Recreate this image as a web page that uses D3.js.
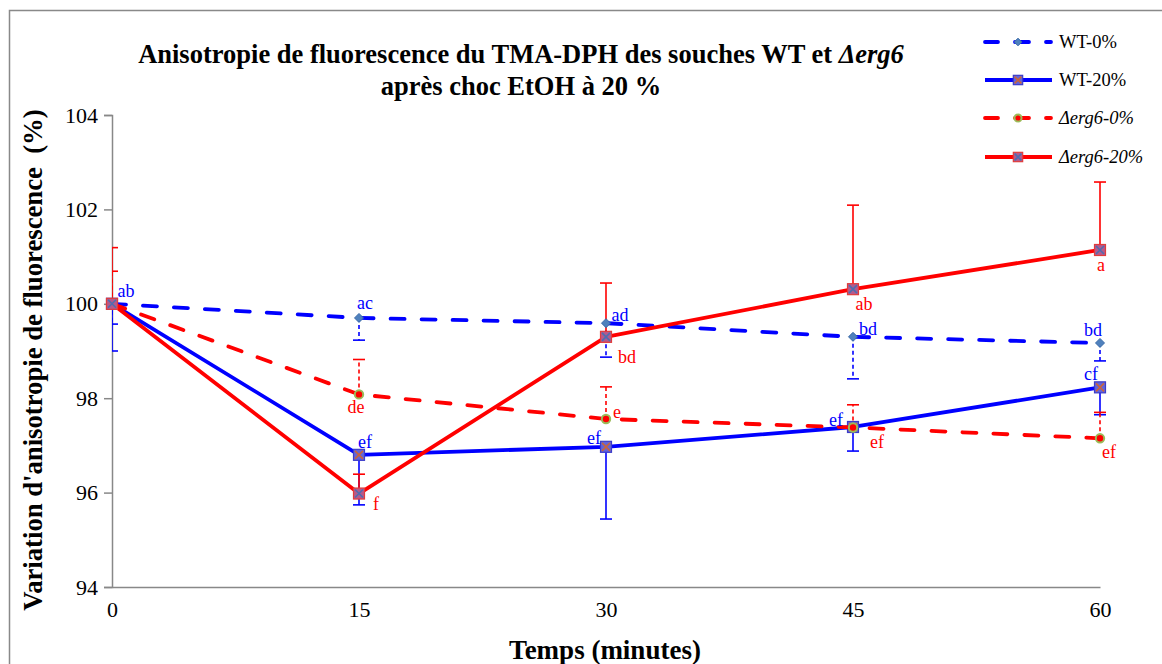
<!DOCTYPE html>
<html>
<head>
<meta charset="utf-8">
<script src="https://cdn.jsdelivr.net/npm/d3@7/dist/d3.min.js"></script>
<style>
  html, body { margin: 0; padding: 0; background: #fff; }
  svg { display: block; }
  text { font-family: "Liberation Serif", "Times New Roman", serif; }
</style>
</head>
<body>
<svg id="chart" width="1162" height="664"></svg>
<script>
// Time points (minutes)
const times = [0, 15, 30, 45, 60];
const yTicks = [94, 96, 98, 100, 102, 104];

// Mean anisotropy variation (%) per strain / condition
const wt0    = [100, 99.70, 99.59, 99.30, 99.17];
const wt20   = [100, 96.80, 96.97, 97.39, 98.23];
const erg0   = [100, 98.08, 97.56, 97.38, 97.15];
const erg20  = [100, 95.98, 99.30, 100.31, 101.14];

// One-sided standard deviations (WT below the mean, Δerg6 above)
const wt0Err  = [0.43, 0.47, 0.72, 0.89, 0.38];
const wt20Err = [1.00, 1.06, 1.53, 0.51, 0.58];
const erg0Err = [0.69, 0.74, 0.68, 0.48, 0.55];
const erg20Err= [1.19, 0.41, 1.14, 1.78, 1.44];

// Statistical group letters
const wt0Letters   = ["ab", "ac", "ad", "bd", "bd"];
const wt20Letters  = ["", "ef", "ef", "ef", "cf"];
const erg0Letters  = ["", "de", "e", "ef", "ef"];
const erg20Letters = ["", "f", "bd", "ab", "a"];

const svg = d3.select("#chart");
const x = d3.scaleLinear().domain([0, 60]).range([112, 1100]);
const y = d3.scaleLinear().domain([94, 104]).range([587, 115]);

// outer chart frame
svg.append("rect").attr("x", 9.5).attr("y", 10.5).attr("width", 1170).attr("height", 680)
  .attr("fill", "none").attr("stroke", "#898989").attr("stroke-width", 1.5);

// clip for error bars at the plot edge
svg.append("clipPath").attr("id", "plotClip").append("rect")
  .attr("x", 112).attr("y", 0).attr("width", 1050).attr("height", 664);

// axes
const yAxis = d3.axisLeft(y).tickValues(yTicks).tickSize(8).tickPadding(6).tickFormat(d3.format("d"));
const gy = svg.append("g").attr("transform", "translate(112,0)").call(yAxis);
gy.select(".domain").attr("stroke", "#888").attr("stroke-width", 1.5);
gy.selectAll(".tick line").attr("stroke", "#888").attr("stroke-width", 1.5);
gy.selectAll(".tick text").attr("font-size", 22).attr("fill", "#000")
  .style("font-family", "'Liberation Serif', serif");

const xAxis = d3.axisBottom(x).tickValues(times).tickSize(0).tickPadding(14).tickFormat(d3.format("d"));
const gx = svg.append("g").attr("transform", "translate(0,587)").call(xAxis);
gx.select(".domain").attr("stroke", "#888").attr("stroke-width", 1.5);
gx.selectAll(".tick text").attr("font-size", 22).attr("fill", "#000")
  .style("font-family", "'Liberation Serif', serif");

// titles
const title = svg.append("text").attr("text-anchor", "middle").attr("font-weight", "bold")
  .attr("font-size", 26.5);
const t1 = title.append("tspan").attr("x", 521).attr("y", 63);
t1.append("tspan").text("Anisotropie de fluorescence du TMA-DPH des souches WT et ");
t1.append("tspan").attr("font-style", "italic").text("Δerg6");
title.append("tspan").attr("x", 521).attr("y", 95).text("après choc EtOH à 20 %");

svg.append("text").attr("text-anchor", "middle").attr("font-weight", "bold").attr("font-size", 26.7)
  .attr("transform", "translate(42,360) rotate(-90)").style("white-space", "pre")
  .text("Variation d'anisotropie de fluorescence  (%)");

svg.append("text").attr("text-anchor", "middle").attr("font-weight", "bold").attr("font-size", 27)
  .attr("x", 605).attr("y", 659).text("Temps (minutes)");

// series definitions
const series = [
  { name: "WT-0%", values: wt0, err: wt0Err, dir: -1, letters: wt0Letters, color: "#0000ff", dash: "14,17", errDash: "4,3", marker: "diamond", italic: false,
    offs: [[14,-13],[6,-15],[14,-8],[15,-8],[-7,-13]] },
  { name: "WT-20%", values: wt20, err: wt20Err, dir: -1, letters: wt20Letters, color: "#0000ff", dash: null, errDash: null, marker: "squareX", italic: false,
    fill: "#6464d8", stroke: "#3c3cc8", xColor: "#c8643c",
    offs: [[0,0],[6,-13],[-12,-9],[-17,-7],[-9,-13]] },
  { name: "Δerg6-0%", values: erg0, err: erg0Err, dir: 1, letters: erg0Letters, color: "#ff0000", dash: "14,17", errDash: "4,3", marker: "circle", italic: true,
    offs: [[0,0],[-3,13],[11,-7],[24,15],[9,14]] },
  { name: "Δerg6-20%", values: erg20, err: erg20Err, dir: 1, letters: erg20Letters, color: "#ff0000", dash: null, errDash: null, marker: "squareX", italic: true,
    fill: "#b45a8c", stroke: "#e03c3c", xColor: "#4f6db0",
    offs: [[0,0],[17,10],[21,20],[11,15],[1,15]] }
];

const line = d3.line().x((d, i) => x(times[i])).y(d => y(d));

// error bars
const errLayer = svg.append("g").attr("clip-path", "url(#plotClip)");
series.forEach(s => {
  s.values.forEach((v, i) => {
    const end = v + s.dir * s.err[i];
    const g = errLayer.append("g").attr("stroke", s.color).attr("stroke-width", 1.6);
    g.append("line").attr("x1", x(times[i])).attr("x2", x(times[i]))
      .attr("y1", y(v)).attr("y2", y(end)).attr("stroke-dasharray", s.errDash);
    g.append("line").attr("x1", x(times[i]) - 6).attr("x2", x(times[i]) + 6)
      .attr("y1", y(end)).attr("y2", y(end));
  });
});

// marker drawing
function drawMarker(g, s, cx, cy, scale) {
  const k = scale || 1;
  if (s.marker === "diamond") {
    const r = 4.5 * k;
    g.append("path").attr("d", `M${cx},${cy - r}L${cx + r},${cy}L${cx},${cy + r}L${cx - r},${cy}Z`)
      .attr("fill", "#4f81bd").attr("stroke", "#3a6aa8").attr("stroke-width", 1);
  } else if (s.marker === "circle") {
    g.append("circle").attr("cx", cx).attr("cy", cy).attr("r", 4.2 * k)
      .attr("fill", "#ff0000").attr("stroke", "#9bbb59").attr("stroke-width", 2);
  } else {
    const h = 5.5 * k;
    g.append("rect").attr("x", cx - h).attr("y", cy - h).attr("width", 2 * h).attr("height", 2 * h)
      .attr("fill", s.fill).attr("stroke", s.stroke).attr("stroke-width", 1.2);
    const e = 4 * k;
    g.append("path").attr("d", `M${cx - e},${cy - e}L${cx + e},${cy + e}M${cx - e},${cy + e}L${cx + e},${cy - e}`)
      .attr("stroke", s.xColor).attr("stroke-width", 1.6);
  }
}

// lines and markers
series.forEach(s => {
  svg.append("path").datum(s.values).attr("d", line).attr("fill", "none")
    .attr("stroke", s.color).attr("stroke-width", 3.8)
    .attr("stroke-dasharray", s.dash).attr("stroke-linecap", s.dash ? "round" : "butt")
    .attr("stroke-linejoin", "round");
  const mg = svg.append("g");
  s.values.forEach((v, i) => drawMarker(mg, s, x(times[i]), y(v)));
});

// group letters
series.forEach(s => {
  s.letters.forEach((t, i) => {
    if (!t) return;
    svg.append("text").attr("x", x(times[i]) + s.offs[i][0]).attr("y", y(s.values[i]) + s.offs[i][1])
      .attr("text-anchor", "middle").attr("dominant-baseline", "central")
      .attr("font-size", 18).attr("fill", s.color).text(t);
  });
});

// legend
const legY = [42, 80, 118, 157];
series.forEach((s, i) => {
  const g = svg.append("g");
  g.append("line").attr("x1", 985).attr("x2", 1052).attr("y1", legY[i]).attr("y2", legY[i])
    .attr("stroke", s.color).attr("stroke-width", 3.8)
    .attr("stroke-dasharray", s.dash ? "13,17,14,17,5,100" : null)
    .attr("stroke-linecap", s.dash ? "round" : "butt");
  drawMarker(g, s, 1018, legY[i], 0.85);
  g.append("text").attr("x", 1059).attr("y", legY[i]).attr("dominant-baseline", "central")
    .attr("font-size", 18.5).attr("font-style", s.italic ? "italic" : null).text(s.name);
});
</script>
</body>
</html>
